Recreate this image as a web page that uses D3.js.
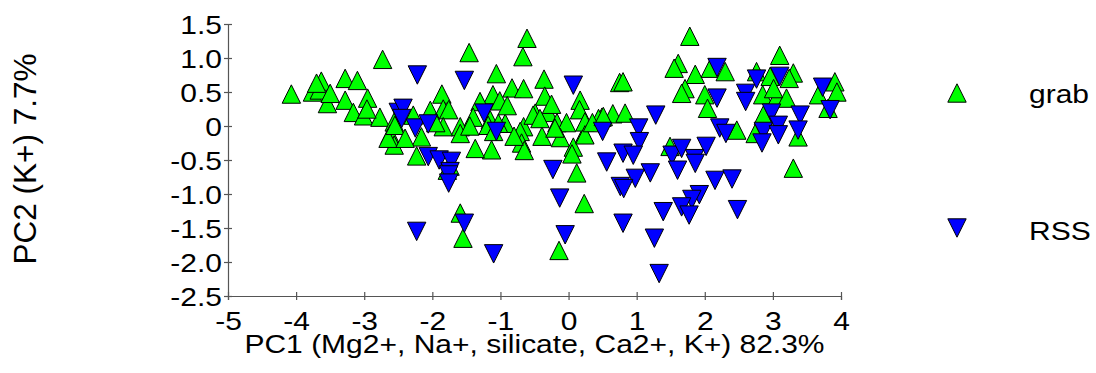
<!DOCTYPE html>
<html>
<head>
<meta charset="utf-8">
<script src="https://cdn.jsdelivr.net/npm/d3@7"></script>
<style>
  body { margin: 0; background: #fff; }
  svg text { font-family: Arial, "Liberation Sans", sans-serif; fill: #000; }
</style>
</head>
<body>
<div class="chart"></div>
<script>
// PCA scores, [PC1, PC2]
const grab = [
  [-4.07,0.47],[-2.73,0.98],[-3.76,0.50],[-3.63,0.66],[-3.66,0.53],[-3.54,0.33],[-3.50,0.48],
  [-3.28,0.70],[-3.10,0.67],[-3.28,0.38],[-2.95,0.41],[-3.16,0.20],[-3.01,0.15],[-2.77,0.13],
  [-2.96,0.25],[-2.56,0.06],[-2.62,-0.12],[-2.56,-0.28],[-2.65,-0.18],[-3.70,0.63],
  [-1.46,1.08],[-0.61,1.29],[-0.67,1.02],[-1.06,0.77],[-0.36,0.69],[0.75,0.64],[-0.83,0.56],
  [-0.66,0.55],[-1.86,0.47],[-0.35,0.44],[-1.11,0.46],[-1.01,0.37],[-1.30,0.36],[-1.84,0.25],
  [-1.76,0.24],[-2.03,0.23],[0.17,0.38],[0.16,0.24],[-0.30,0.20],[-0.49,0.19],[-1.40,0.13],
  [-0.93,0.04],[-0.66,-0.01],[-0.17,0.05],[-0.03,0.05],[0.49,0.13],[0.65,0.18],[0.83,0.19],
  [0.23,-0.12],[-0.12,-0.17],[-0.39,-0.15],[-0.71,-0.08],[-0.69,-0.25],[-0.65,-0.36],
  [-1.13,-0.35],[-1.37,-0.33],[-1.59,-0.01],[-1.59,-0.11],[-1.84,-0.01],[-2.16,-0.16],
  [-2.28,0.16],[-2.55,0.01],[-2.40,-0.18],[-2.23,-0.44],[0.07,-0.31],[0.05,-0.41],[0.12,-0.69],
  [-1.74,-0.59],[-1.15,0.09],[-1.03,0.04],
  [0.44,0.11],[0.24,0.06],[-0.20,-0.03],[-0.52,0.16],[-0.42,0.11],[-1.18,0.01],[-1.10,-0.08],
  [0.24,-0.13],[-0.90,0.30],[-0.25,0.32],[0.35,0.05],[-1.95,0.05],[-1.45,0.00],[-0.80,-0.15],
  [-1.59,-1.28],[-1.55,-1.65],[0.23,-1.14],[-0.14,-1.83],[-1.78,-0.65],
  [1.78,1.32],[3.10,1.04],[1.61,0.92],[1.55,0.85],[1.86,0.76],[2.08,0.85],[2.30,0.80],
  [2.76,0.80],[3.30,0.78],[3.24,0.70],[2.96,0.73],[0.80,0.65],[1.71,0.55],[1.66,0.48],
  [2.00,0.46],[2.04,0.26],[2.85,0.46],[3.06,0.43],[3.20,0.41],[3.01,0.55],[3.67,0.46],
  [3.91,0.65],[3.94,0.50],[3.81,0.26],[2.86,0.16],[2.47,-0.06],[2.74,-0.11],[3.37,-0.16],
  [3.30,-0.62],[1.49,-0.30],[0.51,0.14]
];
const rss = [
  [-2.50,0.20],[-2.22,0.75],[-1.53,0.67],[0.07,0.60],[-2.43,0.26],[-2.45,0.11],[-2.25,-0.03],
  [-2.06,0.03],[-1.24,0.19],[-1.06,-0.08],[0.50,-0.08],[-2.06,-0.45],[-1.90,-0.50],[-1.72,-0.52],
  [-1.74,-0.67],[-0.23,-0.64],[0.56,-0.53],[0.80,-0.40],
  [-2.23,-1.55],[-1.53,-1.43],[-1.10,-1.88],[-0.13,-1.06],[-0.05,-1.60],[-1.76,-0.72],
  [-1.76,-0.84],[0.76,-0.89],[0.80,-1.43],
  [2.18,0.86],[2.76,0.69],[3.10,0.73],[3.73,0.57],[2.60,0.48],[2.60,0.36],[2.18,0.41],
  [1.28,0.16],[2.98,0.19],[3.40,0.16],[3.84,0.24],[3.08,0.01],[3.37,-0.06],[2.86,-0.08],
  [2.84,-0.25],[3.08,-0.13],[1.03,-0.03],[2.22,-0.03],[2.31,-0.11],[1.04,-0.23],[0.95,-0.43],
  [1.52,-0.43],[1.66,-0.33],[2.02,-0.30],[1.85,-0.48],[1.60,-0.65],[1.20,-0.69],[0.98,-0.77],
  [2.15,-0.80],[2.40,-0.78],[0.81,-0.92],[1.86,-0.55],[1.92,-1.01],[1.81,-1.08],[1.66,-1.19],
  [1.77,-1.31],[1.39,-1.26],[2.48,-1.23],[1.26,-1.65],[1.33,-2.17]
];
const xTicks = [-5,-4,-3,-2,-1,0,1,2,3,4];
const yTicks = [1.5,1.0,0.5,0,-0.5,-1.0,-1.5,-2.0,-2.5];
const seriesNames = ['grab','RSS'];
const seriesColors = ['#00ff00','#0000ff'];
const xTitle = 'PC1 (Mg2+, Na+, silicate, Ca2+, K+) 82.3%';
const yTitle = 'PC2 (K+) 7.7%';

const W = 1096, H = 373;
const plot = {left: 228, right: 841, top: 24, bottom: 296};
const squash = 'scale(1,0.86)';   // text in the source is a bit flattened

const svg = d3.select('.chart').append('svg')
    .attr('width', W)
    .attr('height', H);

const x = d3.scaleLinear().domain([-5, 4]).range([plot.left, plot.right]);
const y = d3.scaleLinear().domain([-2.5, 1.5]).range([plot.bottom, plot.top]);

const upTri = 'M0,-9.2L9.2,9.2L-9.2,9.2Z';
const downTri = 'M-9.2,-9.2L9.2,-9.2L0,9.2Z';

// axes
const xAxis = svg.append('g')
    .attr('transform', `translate(0,${plot.bottom})`)
    .call(d3.axisBottom(x).tickValues(xTicks).tickFormat(d => String(d)).tickSizeOuter(0).tickSize(4));
const yAxis = svg.append('g')
    .attr('transform', `translate(${plot.left},0)`)
    .call(d3.axisLeft(y).tickValues(yTicks).tickFormat(d => d === 0 ? '0' : d.toFixed(1)).tickSizeOuter(0).tickSize(4));

[xAxis, yAxis].forEach(g => {
  g.select('.domain').attr('stroke', '#555').attr('stroke-width', 1.2);
  g.selectAll('.tick line').attr('stroke', '#555').attr('stroke-width', 1.2);
  g.selectAll('.tick text')
      .attr('font-size', 30)
      .attr('font-family', 'Arial, "Liberation Sans", sans-serif')
      .attr('fill', '#000');
});
xAxis.selectAll('.tick line').attr('y1', -4).attr('y2', 4);
xAxis.selectAll('.tick text').attr('y', 0).attr('dy', 39.5).attr('transform', squash);
yAxis.selectAll('.tick line').attr('x1', -4).attr('x2', 4);
yAxis.selectAll('.tick text').attr('x', -6).attr('dy', '0.35em').attr('transform', squash);

// axis titles
svg.append('text')
    .attr('transform', `translate(${(plot.left + plot.right) / 2},353) ${squash}`)
    .attr('text-anchor', 'middle')
    .attr('font-size', 30)
    .text(xTitle);
svg.append('text')
    .attr('transform', `translate(36,159) rotate(-90)`)
    .attr('text-anchor', 'middle')
    .attr('font-size', 31.5)
    .text(yTitle);

// points
svg.append('g').selectAll('path')
    .data(grab)
    .enter()
    .append('path')
    .attr('d', upTri)
    .attr('transform', d => `translate(${x(d[0])},${y(d[1])})`)
    .attr('fill', seriesColors[0])
    .attr('stroke', '#000')
    .attr('stroke-width', 1);
svg.append('g').selectAll('path')
    .data(rss)
    .enter()
    .append('path')
    .attr('d', downTri)
    .attr('transform', d => `translate(${x(d[0])},${y(d[1])})`)
    .attr('fill', seriesColors[1])
    .attr('stroke', '#000')
    .attr('stroke-width', 1);

// legend
const legend = svg.append('g');
const legendY = [93, 228];
seriesNames.forEach((name, i) => {
  legend.append('path')
      .attr('d', i === 0 ? upTri : downTri)
      .attr('transform', `translate(957,${legendY[i]})`)
      .attr('fill', seriesColors[i])
      .attr('stroke', '#000');
  legend.append('text')
      .attr('transform', `translate(1029,${legendY[i] + (i === 0 ? 10 : 12)}) ${squash}`)
      .attr('font-size', 30)
      .text(name);
});
</script>
</body>
</html>
